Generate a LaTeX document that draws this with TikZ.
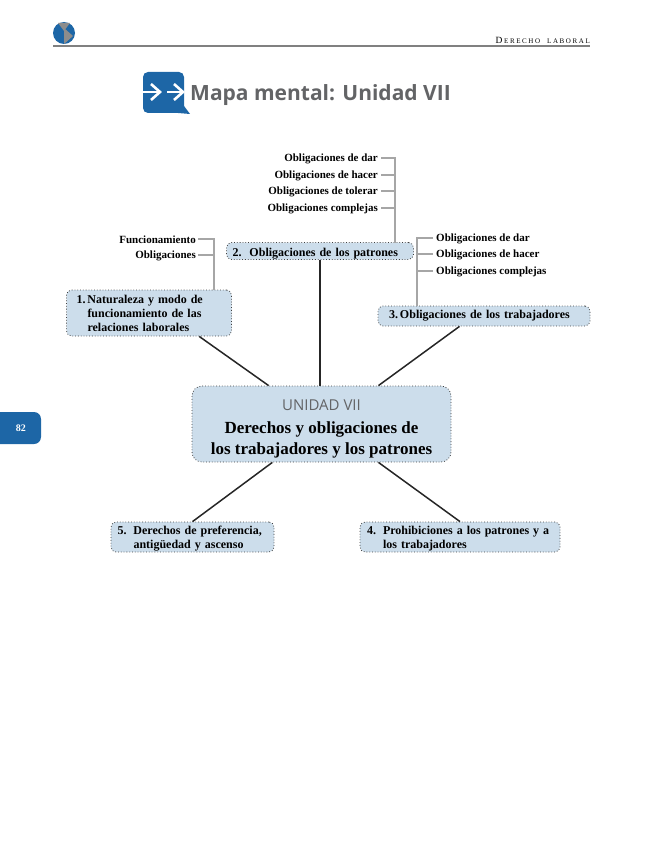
\documentclass[tikz,border=0pt]{standalone}
\usepackage{fontspec}
\setmainfont{Liberation Serif}
\setsansfont{Open Sans}
\definecolor{boxblue}{HTML}{CCDDEB}
\definecolor{tabblue}{HTML}{1D66A6}
\definecolor{twiggray}{HTML}{A6A6A6}
\definecolor{titlegray}{HTML}{636466}
\tikzset{
  topic/.style={draw=black!75,dotted,line width=0.8pt,fill=boxblue,rounded corners=5pt,inner sep=0pt,align=left,font=\bfseries\fontsize{12}{14}\selectfont,text=black},
  leaf/.style={inner sep=0pt,font=\bfseries\fontsize{11}{13}\selectfont},
  spoke/.style={line width=1.5pt,black!85},
  twig/.style={line width=1.4pt,twiggray}
}
\begin{document}
\begin{tikzpicture}[x=1pt,y=-1pt]
\useasboundingbox (0,0) rectangle (663,848);
% header
\draw[line width=1.3pt,black!50] (53,46) -- (590,46);
\node[anchor=south east,inner sep=0pt] (running) at (590,44)
  {\fontsize{9.5}{10}\selectfont D\kern1.6pt\fontsize{7}{10}\selectfont E\kern1.6pt R\kern1.6pt E\kern1.6pt C\kern1.6pt H\kern1.6pt O\kern7pt L\kern1.6pt A\kern1.6pt B\kern1.6pt O\kern1.6pt R\kern1.6pt A\kern1.6pt L};
\fill[tabblue] (64,33) circle (11);
\fill[black!45] (58,23) -- (70,23) -- (64,31) -- cycle;
\fill[black!45] (64,28) -- (73,36) -- (64,44) -- cycle;
% page tab
\fill[tabblue,rounded corners=7pt] (-10,412) rectangle (41,444);
\node[font=\bfseries\fontsize{10}{12}\selectfont,text=white] (pagenum) at (21,428) {82};
% title icon
\fill[tabblue,rounded corners=5pt] (143,72) rectangle (184,113);
\fill[tabblue] (178,106) -- (184,106) -- (190,114) -- (178,113) -- cycle;
\draw[white,line width=2.6pt] (143,92) -- (160,92);
\draw[white,line width=2.6pt] (151,84) -- (160,92) -- (151,100);
\draw[white,line width=2.6pt] (167,92) -- (183,92);
\draw[white,line width=2.6pt] (174,84) -- (183,92) -- (174,100);
\node[anchor=west,inner sep=0pt,font=\sffamily\bfseries\fontsize{21}{24}\selectfont,text=titlegray] (title) at (190,95) {Mapa mental: Unidad VII};
% center
\node[topic,rounded corners=10pt,minimum width=259pt,minimum height=76pt,align=center,font=\bfseries\fontsize{17}{21}\selectfont] (hub) at (321.5,424)
  {\rule{0pt}{21pt}{\sffamily\mdseries\fontsize{15}{20}\selectfont\textcolor{titlegray}{UNIDAD VII}}\\[2pt]Derechos y obligaciones de\\los trabajadores y los patrones};
% topics
\node[topic,minimum width=165pt,minimum height=46pt,text width=145pt] (naturaleza) at (149,313)
  {1.\,Naturaleza y modo de\\\hspace*{11pt}funcionamiento de las\\\hspace*{11pt}relaciones laborales};
\node[topic,minimum width=187pt,minimum height=17pt,text width=175pt] (patrones) at (320,251) {\rule{0pt}{13pt}2.\ \ Obligaciones de los patrones};
\node[topic,minimum width=212pt,minimum height=20pt,text width=190pt] (trabajadores) at (484,316) {3.\,Obligaciones de los trabajadores};
\node[topic,minimum width=200pt,minimum height=30pt,text width=186pt] (prohibiciones) at (460,537)
  {\rule{0pt}{11pt}\makebox[16pt][l]{4.}Prohibiciones a los patrones y a\\\hspace*{16pt}los trabajadores};
\node[topic,minimum width=163pt,minimum height=30pt,text width=150pt] (derechos) at (192.5,537)
  {\rule{0pt}{11pt}\makebox[16pt][l]{5.}Derechos de preferencia,\\\hspace*{16pt}antigüedad y ascenso};
% spokes
\draw[spoke] (naturaleza.-25) -- (hub.144);
\draw[spoke] (patrones.south) -- (hub.north -| patrones.south);
\draw[spoke] (trabajadores.-157) -- (hub.34);
\draw[spoke] (hub.-142) -- (derechos.north);
\draw[spoke] (hub.-34) -- (prohibiciones.north);
% leaves
\coordinate (natk) at (214,290);
\coordinate (patk) at (395,243);
\coordinate (trak) at (417,306);
\node[leaf,anchor=east] (funcion) at (196,240) {Funcionamiento};
\node[leaf,anchor=east] (oblig) at (196,256) {Obligaciones};
\draw[twig] (funcion.east) ++(2,-1) -| (natk);
\draw[twig] (oblig.east) ++(2,-1) -| (natk);
\node[leaf,anchor=east] (pdar) at (378,159) {Obligaciones de dar};
\node[leaf,anchor=east] (phacer) at (378,176) {Obligaciones de hacer};
\node[leaf,anchor=east] (ptolerar) at (378,192) {Obligaciones de tolerar};
\node[leaf,anchor=east] (pcompl) at (378,209) {Obligaciones complejas};
\foreach \n in {pdar,phacer,ptolerar,pcompl}
  \draw[twig] (\n.east) ++(3,-1) -| (patk);
\node[leaf,anchor=west] (tdar) at (436,239) {Obligaciones de dar};
\node[leaf,anchor=west] (thacer) at (436,255) {Obligaciones de hacer};
\node[leaf,anchor=west] (tcompl) at (436,272) {Obligaciones complejas};
\foreach \n in {tdar,thacer,tcompl}
  \draw[twig] (\n.west) ++(-3,-1) -| (trak);
\end{tikzpicture}
\end{document}
